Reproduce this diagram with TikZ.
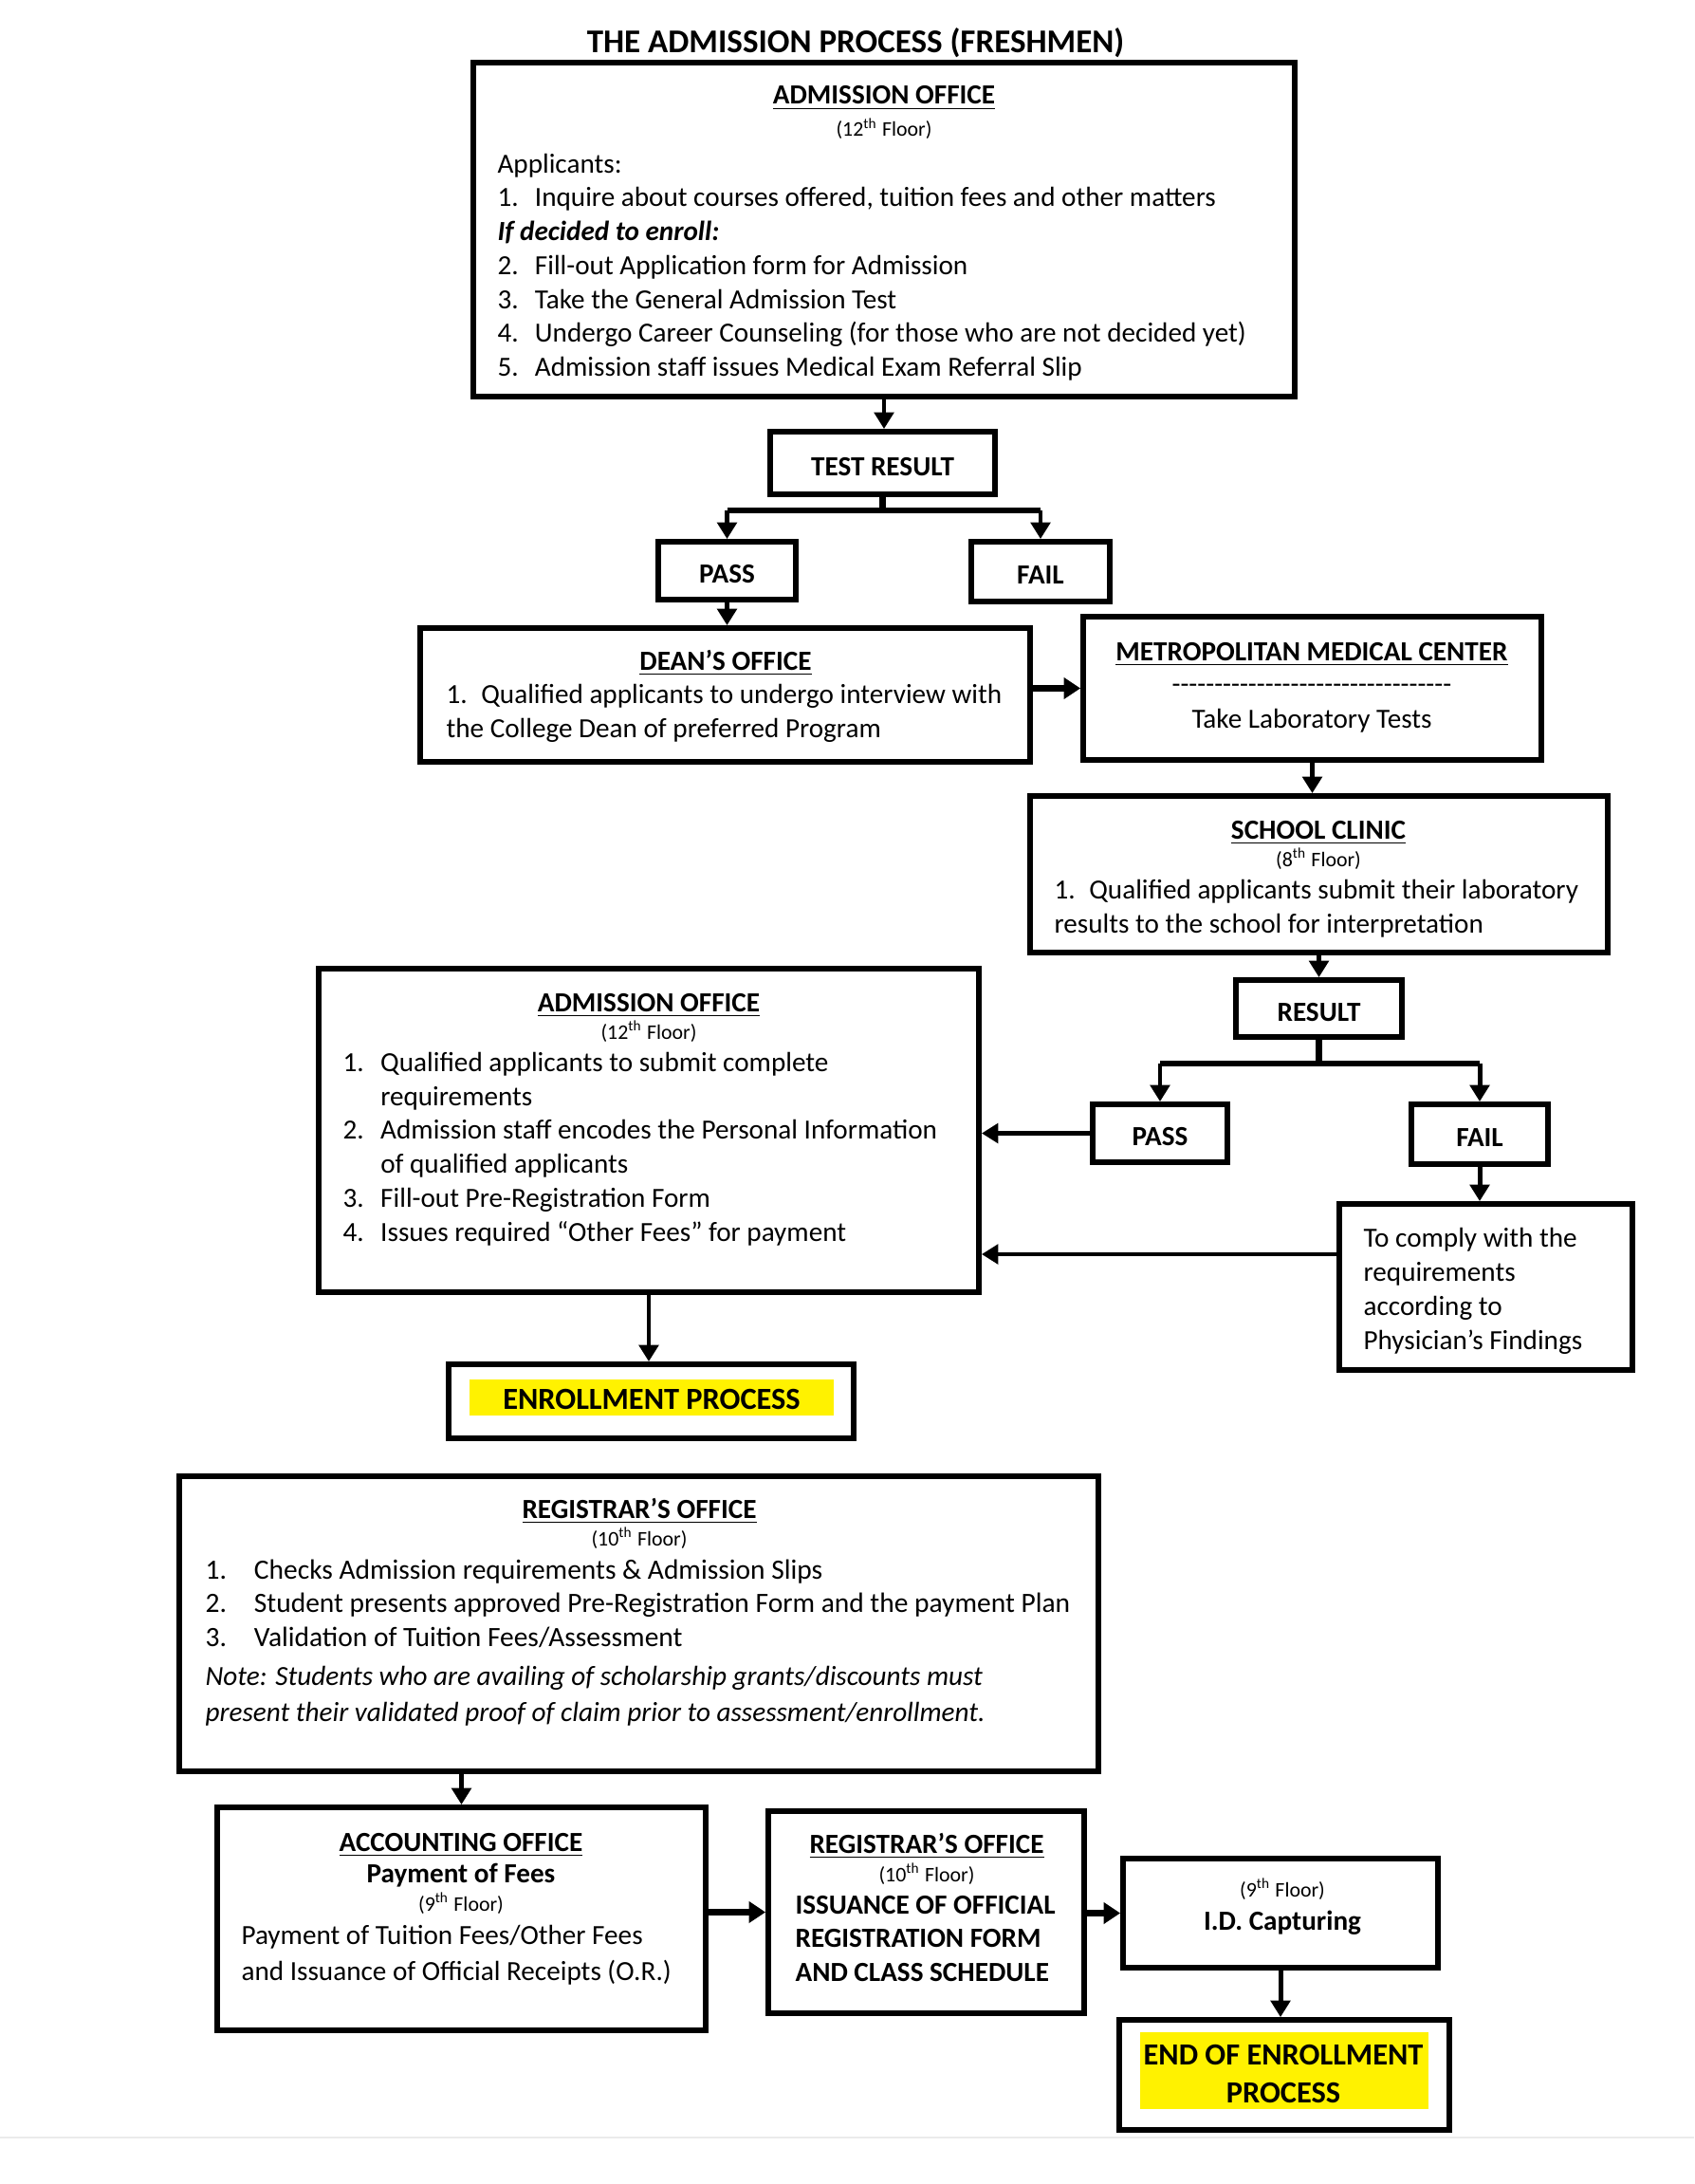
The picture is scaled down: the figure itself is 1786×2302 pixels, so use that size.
\documentclass[tikz,border=0pt]{standalone}
\usepackage{fontspec}
\setmainfont{Carlito}
\usetikzlibrary{arrows.meta,fit}

\newcommand{\lnum}[2][13.5pt]{\makebox[#1][l]{#2}}
\newcommand{\flr}[1]{(#1\textsuperscript{th} Floor)}

\tikzset{
	box/.style={draw,line width=2pt,inner sep=0pt},
	tag/.style={font=\fontsize{10}{12}\selectfont\bfseries,inner sep=0pt,yshift=-1.3pt},
	hl/.style={fill=yellow,inner sep=0pt},
	hltext/.style={font=\fontsize{11.1}{13.5}\selectfont\bfseries,align=center,anchor=base,inner sep=0pt},
	body/.style={font=\fontsize{10}{12.25}\selectfont,align=left,anchor=base west,inner sep=0pt},
	head/.style={font=\fontsize{10}{12}\selectfont\bfseries,anchor=base,inner sep=0pt},
	floor/.style={font=\fontsize{7.5}{9}\selectfont,anchor=base,inner sep=0pt},
	link/.style={line width=1.7pt,-{Triangle[length=6pt,width=7pt]}},
	fatlink/.style={line width=2.6pt,-{Triangle[length=6pt,width=7.5pt]}},
	bar/.style={line width=2.3pt}
}

\begin{document}
\begin{tikzpicture}[x=0.3427pt,y=-0.3427pt]
\useasboundingbox (0,0) rectangle (1786,2302);

\node[font=\fontsize{12}{14}\selectfont\bfseries,anchor=base] (title) at (902,55.5) {THE ADMISSION PROCESS (FRESHMEN)};

% first visit
\node[box,fit={(499,66) (1365,418)}] (adm1) {};
\node[head] (adm1-head) at (932,110) {\underline{ADMISSION OFFICE}};
\node[floor] (adm1-floor) at (932,144) {\flr{12}};
\node[body] (adm1-text) at (524,396.5) {Applicants:\\
	\lnum{1.}Inquire about courses offered, tuition fees and other matters\\
	\textbf{\textit{If decided to enroll:}}\\
	\lnum{2.}Fill-out Application form for Admission\\
	\lnum{3.}Take the General Admission Test\\
	\lnum{4.}Undergo Career Counseling (for those who are not decided yet)\\
	\lnum{5.}Admission staff issues Medical Exam Referral Slip};

\node[box,fit={(812,455) (1049,521)}] (test) {};
\node[tag] (test-text) at (test.center) {TEST RESULT};
\node[box,fit={(694,571) (839,632)}] (pass1) {};
\node[tag] (pass1-text) at (pass1.center) {PASS};
\node[box,fit={(1024,571) (1170,634)}] (fail1) {};
\node[tag] (fail1-text) at (fail1.center) {FAIL};

\node[box,fit={(443,662) (1086,803)}] (dean) {};
\node[head] (dean-head) at (765,706) {\underline{DEAN’S OFFICE}};
\node[body] (dean-text) at (470,777) {\lnum[12.6pt]{1.}Qualified applicants to undergo interview with\\
	the College Dean of preferred Program};

\node[box,fit={(1142,650) (1625,801)}] (mmc) {};
\node[head] (mmc-head) at (1383,696) {\underline{METROPOLITAN MEDICAL CENTER}};
\node[body,anchor=base] (mmc-dash) at (1383,730) {-{}-{}-{}-{}-{}-{}-{}-{}-{}-{}-{}-{}-{}-{}-{}-{}-{}-{}-{}-{}-{}-{}-{}-{}-{}-{}-{}-{}-{}-{}-{}-{}-};
\node[body,anchor=base] (mmc-text) at (1383,767) {Take Laboratory Tests};

\node[box,fit={(1086,839) (1695,1004)}] (clinic) {};
\node[head] (clinic-head) at (1390,884) {\underline{SCHOOL CLINIC}};
\node[floor] (clinic-floor) at (1390,913) {(8\textsuperscript{th} Floor)};
\node[body] (clinic-text) at (1111,983.5) {\lnum[12.6pt]{1.}Qualified applicants submit their laboratory\\
	results to the school for interpretation};

\node[box,fit={(1303,1033) (1478,1093)}] (result) {};
\node[tag] (result-text) at (result.center) {RESULT};
\node[box,fit={(1152,1164) (1294,1225)}] (pass2) {};
\node[tag] (pass2-text) at (pass2.center) {PASS};
\node[box,fit={(1488,1164) (1632,1227)}] (fail2) {};
\node[tag] (fail2-text) at (fail2.center) {FAIL};

\node[box,fit={(1412,1269) (1721,1444)}] (comply) {};
\node[body] (comply-text) at (1437,1422) {To comply with the\\ requirements\\ according to\\ Physician’s Findings};

% second visit
\node[box,fit={(336,1021) (1032,1362)}] (adm2) {};
\node[head] (adm2-head) at (684,1066) {\underline{ADMISSION OFFICE}};
\node[floor] (adm2-floor) at (684,1095) {\flr{12}};
\node[body] (adm2-text) at (361,1308) {\lnum[13.6pt]{1.}Qualified applicants to submit complete\\
	\hspace*{13.6pt}requirements\\
	\lnum[13.6pt]{2.}Admission staff encodes the Personal Information\\
	\hspace*{13.6pt}of qualified applicants\\
	\lnum[13.6pt]{3.}Fill-out Pre-Registration Form\\
	\lnum[13.6pt]{4.}Issues required “Other Fees” for payment};

\node[box,fit={(473,1438) (900,1516)}] (enroll) {};
\node[hl,fit={(495,1454) (879,1492)}] (enroll-hl) {};
\node[hltext] (enroll-text) at (687,1485) {ENROLLMENT PROCESS};

% enrollment
\node[box,fit={(189,1556) (1158,1867)}] (reg1) {};
\node[head] (reg1-head) at (674,1600) {\underline{REGISTRAR’S OFFICE}};
\node[floor] (reg1-floor) at (674,1629) {\flr{10}};
\node[body,font=\fontsize{10.1}{12.1}\selectfont] (reg1-text) at (216,1735) {\lnum[17.6pt]{1.}Checks Admission requirements \& Admission Slips\\
	\lnum[17.6pt]{2.}Student presents approved Pre-Registration Form and the payment Plan\\
	\lnum[17.6pt]{3.}Validation of Tuition Fees/Assessment};
\node[body,font=\fontsize{10}{12.7}\selectfont\itshape] (reg1-note) at (216,1814) {Note: Students who are availing of scholarship grants/discounts must\\
	present their validated proof of claim prior to assessment/enrollment.};

\node[box,fit={(229,1905) (744,2140)}] (acc) {};
\node[head] (acc-head) at (486,1951) {\underline{ACCOUNTING OFFICE}};
\node[head] (acc-sub) at (486,1984) {Payment of Fees};
\node[floor] (acc-floor) at (486,2014) {\flr{9}};
\node[body,font=\fontsize{10}{12.7}\selectfont] (acc-text) at (254,2087) {Payment of Tuition Fees/Other Fees\\
	and Issuance of Official Receipts (O.R.)};

\node[box,fit={(810,1909) (1143,2122)}] (reg2) {};
\node[head] (reg2-head) at (977,1953.5) {\underline{REGISTRAR’S OFFICE}};
\node[floor] (reg2-floor) at (977,1983) {\flr{10}};
\node[body,font=\fontsize{10}{12.2}\selectfont\bfseries] (reg2-text) at (838,2088.5) {ISSUANCE OF OFFICIAL\\ REGISTRATION FORM\\ AND CLASS SCHEDULE};

\node[box,fit={(1184,1959) (1516,2074)}] (id) {};
\node[floor] (id-floor) at (1352,1999) {\flr{9}};
\node[head] (id-text) at (1352,2034) {I.D. Capturing};

\node[box,fit={(1180,2129) (1528,2245)}] (end) {};
\node[hl,fit={(1202,2142) (1506,2223)}] (end-hl) {};
\node[hltext] (end-text) at (1353,2216) {END OF ENROLLMENT\\ PROCESS};

% connectors
\draw[link] (adm1.south) -- (adm1.south |- test.north);
\draw[bar] (test.south) -- (test.south |- 0,538);
\draw[bar] (pass1.north |- 0,538) -- (fail1.north |- 0,538);
\draw[link] (pass1.north |- 0,538) -- (pass1.north);
\draw[link] (fail1.north |- 0,538) -- (fail1.north);
\draw[link] (pass1.south) -- (pass1.south |- dean.north);
\draw[fatlink] (dean.east |- mmc.west) -- (mmc.west);
\draw[link] (mmc.south) -- (mmc.south |- clinic.north);
\draw[link] (clinic.south) -- (clinic.south |- result.north);
\draw[bar] (result.south) -- (result.south |- 0,1121);
\draw[bar] (pass2.north |- 0,1121) -- (fail2.north |- 0,1121);
\draw[link] (pass2.north |- 0,1121) -- (pass2.north);
\draw[link] (fail2.north |- 0,1121) -- (fail2.north);
\draw[link,line width=2pt] (pass2.west) -- (pass2.west -| adm2.east);
\draw[link] (fail2.south) -- (fail2.south |- comply.north);
\draw[link] (comply.west |- 0,1322) -- (adm2.east |- 0,1322);
\draw[link] (adm2.south) -- (adm2.south |- enroll.north);
\draw[link] (acc.north |- reg1.south) -- (acc.north);
\draw[fatlink] (acc.east |- reg2.west) -- (reg2.west);
\draw[fatlink] (reg2.east |- id.west) -- (id.west);
\draw[link] (id.south) -- (id.south |- end.north);

\draw[black!8,line width=0.6pt] (0,2253) -- (1786,2253);
\end{tikzpicture}
\end{document}
